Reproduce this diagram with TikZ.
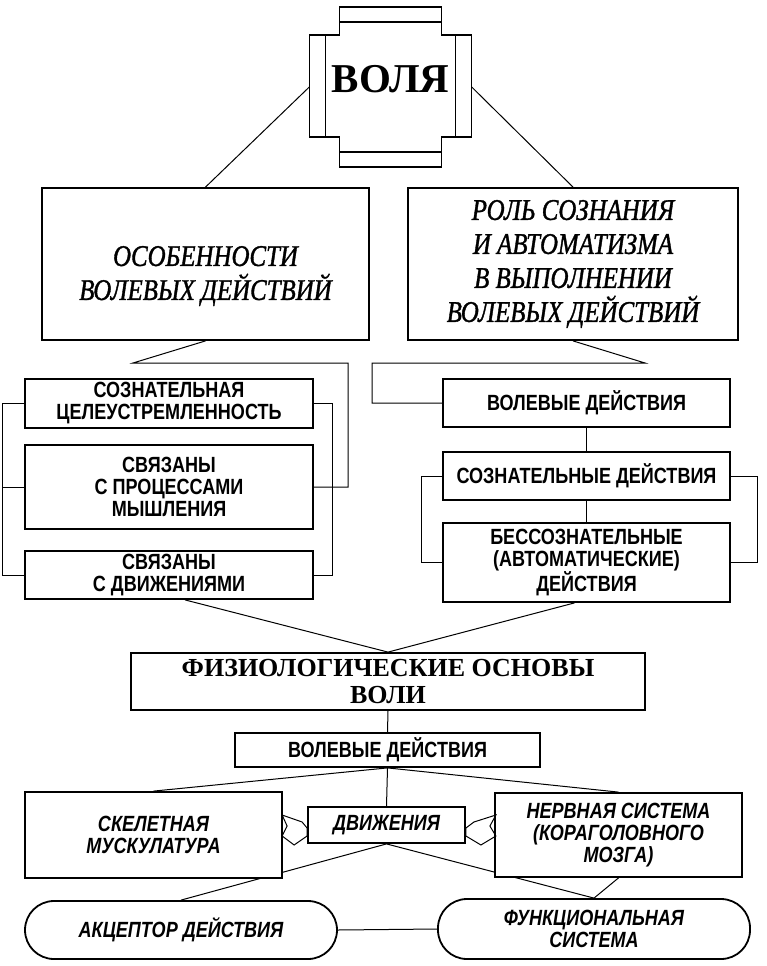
\documentclass[tikz,border=0pt]{standalone}
\usepackage{fontspec}
\setmainfont{Liberation Serif}
\newfontfamily\sanscond[FakeStretch=0.82]{Liberation Sans}
\newfontfamily\serifcond[FakeStretch=0.83,FakeBold=1.2]{Liberation Serif}
\usetikzlibrary{calc,backgrounds}

\tikzset{
  box/.style={draw, line width=1.8pt, fill=white, inner sep=2pt, align=center},
  serifbox/.style={box, font=\serifcond\itshape\fontsize{30}{34}\selectfont},
  sansbox/.style={box, font=\sanscond\bfseries\fontsize{22}{22}\selectfont},
  italbox/.style={box, font=\sanscond\bfseries\itshape\fontsize{22}{22}\selectfont},
  oval/.style={italbox, rounded corners=29pt},
  link/.style={line width=1pt},
}

\begin{document}
\begin{tikzpicture}[x=1pt,y=-1pt]
\useasboundingbox (0,0) rectangle (767,966);

\node[minimum width=162, minimum height=160, text depth=17pt,
      font=\bfseries\fontsize{41}{41}\selectfont] (volya) at (390.5,87) {ВОЛЯ};
\draw[line width=1.8pt, shift={(volya.center)}]
  (-51,-80) -- (51,-80) -- (51,-52) -- (81,-52) -- (81,50) -- (51,50) -- (51,80)
  -- (-51,80) -- (-51,50) -- (-81,50) -- (-81,-52) -- (-51,-52) -- cycle
  (-51,-65) -- (51,-65) (-51,65) -- (51,65)
  (-65,-52) -- (-65,50) (65,-52) -- (65,50);

\node[serifbox, minimum width=327, minimum height=152, text height=78pt] (osob) at (205.5,264)
  {ОСОБЕННОСТИ\\ВОЛЕВЫХ ДЕЙСТВИЙ};
\node[serifbox, minimum width=330, minimum height=152] (rol) at (573,264)
  {РОЛЬ СОЗНАНИЯ\\И АВТОМАТИЗМА\\В ВЫПОЛНЕНИИ\\ВОЛЕВЫХ ДЕЙСТВИЙ};

\node[sansbox, minimum width=288, minimum height=49] (soz) at (169,403.5)
  {СОЗНАТЕЛЬНАЯ\\ЦЕЛЕУСТРЕМЛЕННОСТЬ};
\node[sansbox, minimum width=288, minimum height=84] (svmysl) at (169,487)
  {СВЯЗАНЫ\\С ПРОЦЕССАМИ\\МЫШЛЕНИЯ};
\node[sansbox, minimum width=288, minimum height=48] (svdv) at (169,575)
  {СВЯЗАНЫ\\С ДВИЖЕНИЯМИ};

\node[sansbox, minimum width=287, minimum height=48] (vd) at (586.5,403)
  {ВОЛЕВЫЕ ДЕЙСТВИЯ};
\node[sansbox, minimum width=287, minimum height=48] (sd) at (586.5,476)
  {СОЗНАТЕЛЬНЫЕ ДЕЙСТВИЯ};
\node[sansbox, minimum width=287, minimum height=79] (bd) at (586.5,562.5)
  {БЕССОЗНАТЕЛЬНЫЕ\\(АВТОМАТИЧЕСКИЕ)\\ДЕЙСТВИЯ};

\node[box, minimum width=514, minimum height=57,
      font=\bfseries\fontsize{26}{27}\selectfont] (fiz) at (388,681.5)
  {ФИЗИОЛОГИЧЕСКИЕ ОСНОВЫ\\ВОЛИ};
\node[sansbox, minimum width=305, minimum height=34] (vd2) at (387.5,750)
  {ВОЛЕВЫЕ ДЕЙСТВИЯ};

\node[italbox, minimum width=257, minimum height=86] (skel) at (153.5,835)
  {СКЕЛЕТНАЯ\\МУСКУЛАТУРА};
\node[italbox, minimum width=157, minimum height=36] (dv) at (386.5,825)
  {ДВИЖЕНИЯ};
\node[italbox, minimum width=247, minimum height=84] (nerv) at (618.5,835)
  {НЕРВНАЯ СИСТЕМА\\(КОРАГОЛОВНОГО\\МОЗГА)};
\node[oval, minimum width=312, minimum height=58] (akc) at (181,930)
  {АКЦЕПТОР ДЕЙСТВИЯ};
\node[oval, minimum width=312, minimum height=60] (fun) at (594,929)
  {ФУНКЦИОНАЛЬНАЯ\\СИСТЕМА};

\draw[line width=1pt, shift={(dv.west)}]
  (-25,-10) -- (-5,-3) -- (0,3) -- (0,11) -- (-13,20) -- (-25,11) -- (-20,1) -- cycle;
\draw[line width=1pt, shift={(dv.east)}]
  (30,-10) -- (8,-3) -- (0,3) -- (0,11) -- (15,20) -- (30,11) -- (24,1) -- cycle;

\coordinate (jl) at (133,363);
\coordinate (jr) at (645,363);

\begin{scope}[on background layer]
\draw[link] (volya.west) -- (osob.north);
\draw[link] (volya.east) -- (rol.north);

\draw[link] (osob.south) -- (jl) -- ++(215,0) |- (svmysl.east);
\draw[link] (soz.west) -- ++(-22,0) |- (svdv.west);
\draw[link] (svmysl.west) -- ++(-22,0);
\draw[link] (soz.east) -- ++(19,0) |- (svdv.east);

\draw[link] (rol.south) -- (jr) -- ++(-273,0) |- (vd.west);
\draw[link] (vd.south) -- (sd.north);
\draw[link] (sd.south) -- (bd.north);
\draw[link] (sd.west) -- ++(-21,0) |- (bd.west);
\draw[link] (sd.east) -- ++(27,0) |- (bd.east);

\draw[link] ($(svdv.south)+(16,0)$) -- (fiz.north);
\draw[link] ($(bd.south)+(-12,0)$) -- (fiz.north);
\draw[link] (fiz.south) -- (vd2.north);

\draw[link] (vd2.south) -- (skel.north);
\draw[link] (vd2.south) -- (dv.north);
\draw[link] (vd2.south) -- (nerv.north);
\draw[link] (dv.south) -- (akc.north);
\draw[link] (dv.south) -- (fun.north);
\draw[link] (nerv.south) -- (fun.north);
\draw[link] (akc.east) -- (fun.west);
\end{scope}
\end{tikzpicture}
\end{document}
